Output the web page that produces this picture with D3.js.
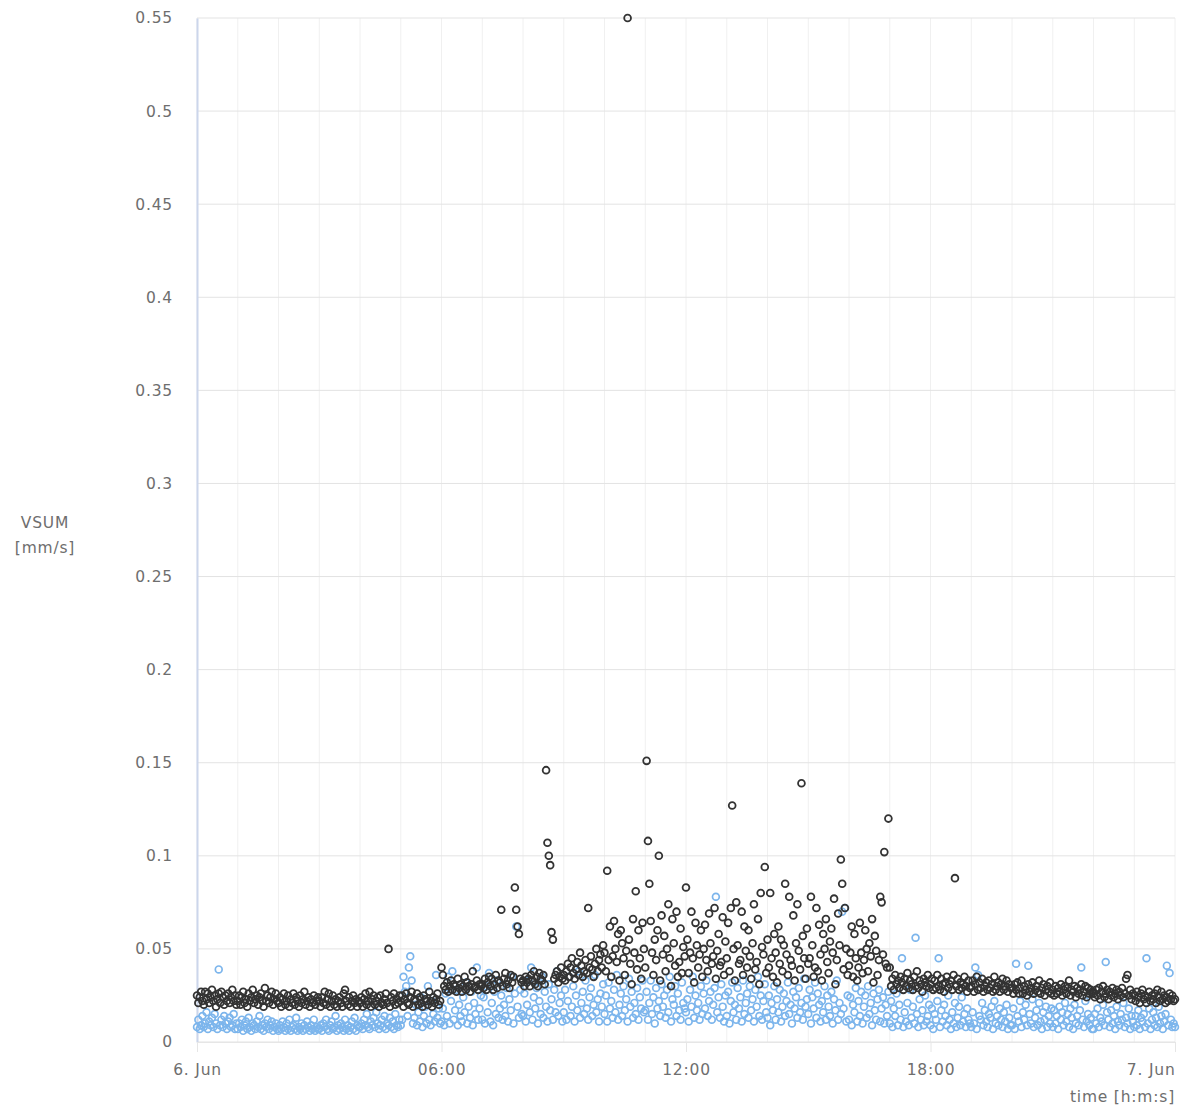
<!DOCTYPE html>
<html>
<head>
<meta charset="utf-8">
<script src="https://cdn.jsdelivr.net/npm/d3@7"></script>
<style>
  body { margin: 0; background: #fff; }
  svg text { font-family: "DejaVu Sans", Verdana, sans-serif; fill: #6e6e6e; letter-spacing: 0.8px; }
</style>
</head>
<body>
<div id="chart"></div>
<script>
// one sample every 2 minutes, 6 Jun 00:00 -> 7 Jun 00:00, values in 1/1000 mm/s
const startTime = Date.UTC(2016, 5, 6, 0, 0)
const endTime = Date.UTC(2016, 5, 7, 0, 0)
const stepMinutes = 2

const vsumDark = [
  25,21,24,27,22,20,27,23,26,21,24,28,22,25,19,23,26,21,27,24,20,25,22,26,21,24,28,22,25,20,
  22,25,20,24,27,21,23,19,26,22,24,28,21,23,25,20,24,26,22,19,29,22,25,21,24,27,20,23,26,22,
  21,24,19,23,26,20,22,25,19,23,21,26,20,24,22,19,25,21,23,27,20,22,24,19,23,21,25,20,22,24,
  22,19,24,21,27,20,23,26,19,22,25,20,23,19,22,24,21,19,26,28,22,20,24,19,22,25,21,23,19,22,
  21,24,19,23,26,20,22,27,19,23,25,20,22,24,19,25,21,20,23,26,21,50,19,24,22,26,20,23,21,25,
  22,25,19,23,26,21,20,24,27,19,23,22,26,20,24,21,19,25,23,22,20,27,22,19,24,21,23,26,20,22,
  40,36,30,28,32,27,30,33,28,31,30,27,34,29,31,27,30,35,28,32,30,27,31,38,29,30,33,28,31,30,
  31,29,34,28,32,35,30,34,28,31,36,29,33,32,71,30,34,37,31,33,29,36,32,35,83,71,62,58,34,32,
  33,30,35,32,34,30,36,33,38,31,35,30,37,34,33,36,31,146,107,100,95,59,55,34,36,38,32,35,40,34,
  36,33,38,42,35,40,45,37,34,39,43,36,48,41,35,38,44,37,72,40,46,39,35,42,50,38,44,47,40,52,
  48,38,92,44,62,35,46,65,50,43,58,33,60,53,45,36,49,550,55,42,31,66,48,81,39,60,45,34,64,50,
  40,151,108,85,65,48,36,55,44,60,100,33,68,47,57,38,50,74,45,30,66,53,41,70,35,43,61,37,51,46,
  83,55,37,48,70,45,32,64,52,40,47,60,35,50,63,44,38,69,53,42,46,72,34,49,58,41,43,67,36,54,
  45,64,38,72,127,50,33,75,52,42,44,70,36,62,49,40,60,46,34,53,74,39,43,66,31,80,51,47,94,37,
  55,40,80,45,35,58,48,32,62,42,55,38,52,85,47,36,78,44,41,68,33,53,74,49,39,139,57,45,34,61,
  42,45,78,52,35,40,72,38,63,47,33,58,50,66,43,37,54,61,48,77,31,44,69,52,98,85,39,72,50,36,
  41,48,62,35,58,45,33,40,64,48,37,44,60,50,38,53,46,66,32,57,49,36,44,78,75,47,102,42,40,120,
  40,30,34,28,36,31,33,29,35,32,28,34,30,37,29,33,31,28,35,30,38,29,33,31,27,34,32,30,36,29,
  31,34,28,33,29,36,30,28,34,31,27,32,35,29,31,33,28,36,88,30,34,28,32,29,31,35,30,27,33,29,
  30,33,27,31,35,28,32,29,34,27,30,32,28,33,29,31,27,35,28,30,32,27,31,34,28,30,33,27,31,29,
  29,26,31,28,32,26,29,33,26,30,28,25,31,27,29,32,26,28,30,27,33,26,29,31,25,28,30,27,32,26,
  28,25,30,26,29,27,31,25,28,30,26,29,33,25,28,27,30,24,29,26,28,31,25,27,30,24,29,26,28,27,
  26,24,28,25,29,23,27,30,24,26,28,23,27,25,29,24,26,28,23,27,25,29,24,26,34,36,25,28,23,26,
  25,22,27,24,21,26,28,23,25,21,24,27,22,25,23,26,21,28,24,22,27,23,25,21,24,22,26,23,25,22,
  23
]

const vsumLight = [
  8,12,7,9,14,8,10,16,7,11,9,13,8,15,10,7,39,9,12,8,14,10,7,11,13,8,9,15,7,10,
  7,10,8,12,6,9,11,7,13,8,6,10,9,7,11,8,14,7,9,6,10,8,12,7,9,11,6,8,10,7,
  6,9,7,11,8,6,10,7,12,6,8,9,7,13,6,8,7,10,6,9,7,11,8,6,9,7,12,6,8,7,
  7,9,6,10,8,12,7,6,9,11,7,8,14,6,9,7,10,8,6,12,7,9,6,8,11,7,13,6,9,8,
  8,10,7,12,9,15,8,7,11,9,13,8,16,10,7,9,12,8,14,7,10,9,13,8,11,7,15,9,8,12,
  9,12,35,27,30,14,40,46,33,10,13,20,9,16,11,24,8,14,19,10,30,12,9,22,15,11,36,13,18,10,
  11,18,9,26,14,35,10,22,38,12,17,28,9,20,14,11,24,16,32,10,19,13,27,9,21,15,40,12,18,25,
  12,24,10,30,16,37,11,21,9,27,15,33,13,18,25,12,20,14,29,11,23,17,35,10,26,62,19,13,28,15,
  14,26,11,20,33,16,40,12,24,18,29,10,22,15,35,13,27,19,11,31,17,23,12,28,16,38,14,21,25,11,
  16,28,12,22,35,14,19,30,11,25,17,38,13,21,27,15,33,18,12,24,29,14,20,36,16,23,11,26,19,31,
  15,25,11,32,18,22,13,28,16,36,12,20,26,14,30,17,23,11,34,19,27,13,21,15,29,12,24,18,33,16,
  17,27,12,21,33,15,24,10,29,18,22,14,31,19,25,13,28,16,35,11,23,20,30,14,26,17,12,32,21,18,
  16,23,11,28,19,35,13,25,17,21,12,30,15,26,18,33,14,22,27,12,20,29,78,16,24,13,31,19,11,25,
  14,27,10,22,32,16,20,12,29,18,24,11,33,15,21,26,13,30,17,23,11,28,19,35,14,25,12,22,31,16,
  13,25,9,21,17,30,12,23,16,28,11,19,26,14,22,32,15,20,10,27,18,24,13,29,16,21,12,34,19,23,
  15,28,10,24,18,32,13,26,20,11,22,16,30,12,25,19,14,27,10,23,17,33,12,21,15,70,18,72,11,25,
  12,24,9,20,16,29,11,22,14,27,10,19,25,13,30,15,21,9,26,17,12,23,28,11,18,24,10,20,14,27,
  10,22,8,18,14,26,9,20,12,45,8,16,11,21,9,28,13,19,10,56,15,8,23,12,17,9,25,11,14,20,
  9,18,7,15,12,22,45,8,17,11,20,14,9,25,12,7,16,10,21,8,13,19,9,24,11,15,8,18,12,10,
  8,16,10,40,7,36,14,12,21,9,17,11,8,15,13,19,7,22,10,14,9,18,12,8,16,11,20,7,13,9,
  9,18,7,42,14,11,22,8,16,12,20,9,41,15,10,23,8,13,17,9,21,11,7,16,12,19,8,14,10,18,
  8,17,10,14,7,19,12,16,9,21,11,15,8,18,13,7,20,10,14,9,17,40,12,8,22,11,15,9,13,7,
  7,15,10,18,8,13,11,20,9,43,16,12,8,17,10,14,7,19,11,9,15,12,21,8,13,10,18,7,14,11,
  8,14,9,17,7,13,11,15,8,45,10,18,7,12,16,9,13,8,19,10,14,7,11,15,41,9,37,12,8,10,
  8
]

const yTicks = [0, 0.05, 0.1, 0.15, 0.2, 0.25, 0.3, 0.35, 0.4, 0.45, 0.5, 0.55]
const yTitle = ["VSUM", "[mm/s]"]
const xTitle = "time [h:m:s]"

const width = 1193
const height = 1109
const margin = {top: 18, right: 18, bottom: 67, left: 197}
const fontSize = 15.5

const svg = d3.select("#chart").append("svg")
    .attr("width", width)
    .attr("height", height)

const x = d3.scaleUtc()
    .domain([startTime, endTime])
    .range([margin.left, width - margin.right])

const y = d3.scaleLinear()
    .domain([0, 0.55])
    .range([height - margin.bottom, margin.top])

function toPoints(arr){
    return arr.map((v, i) => ({t: startTime + i * stepMinutes * 60000, v: v / 1000}))
}

// hourly vertical grid
const hours = d3.utcHour.range(startTime, endTime + 1)
svg.append("g")
    .selectAll("line")
    .data(hours)
    .join("line")
        .attr("x1", d => x(d)).attr("x2", d => x(d))
        .attr("y1", margin.top).attr("y2", height - margin.bottom)
        .attr("stroke", "#f0f0f0")
        .attr("stroke-width", 1)

// horizontal grid
svg.append("g")
    .selectAll("line")
    .data(yTicks)
    .join("line")
        .attr("x1", margin.left).attr("x2", width - margin.right)
        .attr("y1", d => y(d)).attr("y2", d => y(d))
        .attr("stroke", "#e3e3e3")
        .attr("stroke-width", 1)

// y axis
const yAxis = d3.axisLeft(y)
    .tickValues(yTicks)
    .tickSize(0)
    .tickPadding(24)
    .tickFormat(d => d3.format("")(+d.toFixed(2)))

svg.append("g")
    .attr("transform", `translate(${margin.left},0)`)
    .call(yAxis)
    .call(g => g.select(".domain").attr("stroke", "#ccd6eb").attr("stroke-width", 2))
    .call(g => g.selectAll("text").attr("font-size", fontSize).attr("fill", "#6e6e6e"))

// x axis
const xTicks = d3.utcHour.every(6).range(startTime, endTime + 1)
const xAxis = d3.axisBottom(x)
    .tickValues(xTicks)
    .tickSize(10)
    .tickPadding(12)
    .tickFormat(d => d.getUTCHours() === 0 ? `${d.getUTCDate()}. Jun` : d3.utcFormat("%H:%M")(d))

svg.append("g")
    .attr("transform", `translate(0,${height - margin.bottom})`)
    .call(xAxis)
    .call(g => g.select(".domain").attr("stroke", "#e6e6e6"))
    .call(g => g.selectAll(".tick line").attr("stroke", "#e6e6e6"))
    .call(g => g.selectAll("text").attr("font-size", fontSize).attr("fill", "#6e6e6e"))
    .call(g => g.selectAll(".tick text").filter((d, i, n) => i === n.length - 1).attr("text-anchor", "end").attr("dx", 0))

// axis titles
svg.append("text")
    .attr("x", 45)
    .attr("y", 528)
    .attr("text-anchor", "middle")
    .attr("font-size", fontSize)
    .selectAll("tspan")
    .data(yTitle)
    .join("tspan")
        .attr("x", 45)
        .attr("dy", (d, i) => i ? 25 : 0)
        .text(d => d)

svg.append("text")
    .attr("x", width - margin.right)
    .attr("y", 1102)
    .attr("text-anchor", "end")
    .attr("font-size", fontSize)
    .text(xTitle)

// series
const gLight = svg.append("g")
    .attr("fill", "none")
    .attr("stroke", "#7cb5ec")
    .attr("stroke-width", 1.7)
gLight.selectAll("circle")
    .data(toPoints(vsumLight))
    .join("circle")
        .attr("cx", d => x(d.t))
        .attr("cy", d => y(d.v))
        .attr("r", 3.4)

const gDark = svg.append("g")
    .attr("fill", "none")
    .attr("stroke", "#333")
    .attr("stroke-width", 1.8)
gDark.selectAll("circle")
    .data(toPoints(vsumDark))
    .join("circle")
        .attr("cx", d => x(d.t))
        .attr("cy", d => y(d.v))
        .attr("r", 3.4)
</script>
</body>
</html>
